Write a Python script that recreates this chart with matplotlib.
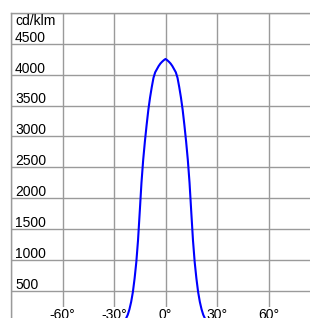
import matplotlib
matplotlib.use("Agg")
import matplotlib.pyplot as plt

plt.rcParams['font.family'] = ['Liberation Sans', 'DejaVu Sans']

# light distribution curve
angles = [-30, -25, -24, -23, -22, -21, -20, -19, -18, -17, -16, -15, -14, -13, -12, -11, -10, -9, -8, -7, -6, -5, -4, -3, -2, -1,
          0, 1, 2, 3, 4, 5, 6, 7, 8, 9, 10, 11, 12, 13, 14, 15, 16, 17, 18, 19, 20, 21, 22, 23, 24, 25, 30]
intensity = [0, 0, 15, 50, 110, 200, 320, 480, 700, 965, 1320, 1780, 2250, 2620, 2920, 3185, 3430, 3630, 3800, 3950, 4040, 4090, 4140, 4180, 4210, 4235,
             4255, 4235, 4210, 4180, 4140, 4090, 4040, 3950, 3800, 3630, 3430, 3185, 2920, 2620, 2250, 1780, 1320, 965, 700, 480, 320, 200, 110, 50, 15, 0, 0]

y_ticks = [500, 1000, 1500, 2000, 2500, 3000, 3500, 4000, 4500]
x_ticks = [-60, -30, 0, 30, 60]
unit = 'cd/klm'

grid_color = '#9a9a9a'

fig = plt.figure(figsize=(3.10, 3.18), dpi=100)
ax = fig.add_axes([11 / 310, -3.6 / 318, 309 / 310, 308.6 / 318])
ax.set_xlim(-90, 90)
ax.set_ylim(0, 5000)
ax.set_xticks(range(-90, 91, 30))
ax.set_yticks(range(0, 5001, 500))
ax.tick_params(length=0, labelbottom=False, labelleft=False)
ax.grid(True, color=grid_color, lw=1)
for s in ax.spines.values():
    s.set_color(grid_color)
    s.set_linewidth(1)

ax.plot(angles, intensity, color='#0000ff', lw=1.5, zorder=4)

# value labels sit just above their grid line
for v in y_ticks:
    ax.text(-87.7, v + 35, str(v), fontsize=10, ha='left', va='baseline')
ax.text(-87.7, 4800, unit, fontsize=10, ha='left', va='baseline')

for a in x_ticks:
    ax.text(a, 40, f'{a}°', fontsize=10, ha='center', va='baseline', zorder=3,
            bbox=dict(facecolor='white', edgecolor='none', pad=0.5))

fig.savefig('out.png', dpi=100)
